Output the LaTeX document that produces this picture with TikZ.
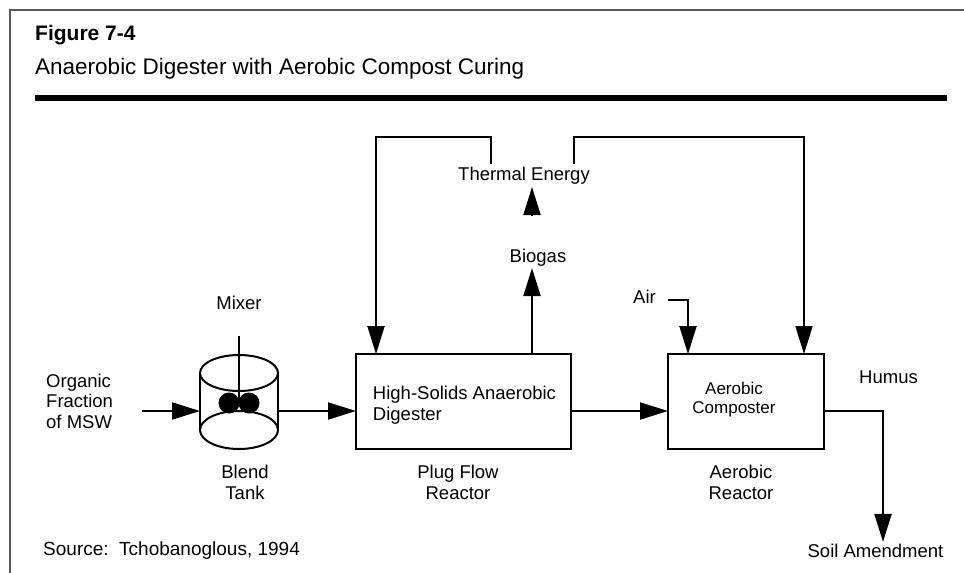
\documentclass[tikz,border=0pt]{standalone}
\usepackage{fontspec}
\setmainfont{Liberation Sans}
\usetikzlibrary{arrows.meta,calc}
\begin{document}
\begin{tikzpicture}[x=1pt,y=-1pt,
  lbl/.style={inner sep=0pt, font=\fontsize{18.5}{20.5}\selectfont, align=center},
  flow/.style={line width=2pt, -{Triangle[length=28pt,width=17pt]}},
  pipe/.style={line width=2pt},
  unit/.style={draw, line width=2pt, inner sep=0pt, outer sep=0pt}]
\useasboundingbox (0,0) rectangle (964,573);
% frame and heading
\draw[black!65, line width=1.5pt] (10,573) -- (10,10) -- (964,10);
\node[anchor=base west, inner sep=0pt, font=\fontsize{21}{25}\selectfont\bfseries] (title) at (35,40) {Figure 7-4};
\node[anchor=base west, inner sep=0pt, font=\fontsize{22.5}{26}\selectfont] (subtitle) at (35,74) {Anaerobic Digester with Aerobic Compost Curing};
\fill (35,95) rectangle (947,101);
\coordinate (flow) at (0,411);
% blend tank
\node[minimum width=78pt, minimum height=94pt, inner sep=0pt, outer sep=0pt] (tank) at (239,411) {};
\draw[pipe] (200,373) -- (200,430) (278,373) -- (278,430);
\draw[pipe] (239,373) ellipse [x radius=39pt, y radius=18pt];
\draw[pipe] (239,430) ellipse [x radius=39pt, y radius=19pt];
\fill (229,403) circle [radius=10.5pt];
\fill (249,403) circle [radius=10.5pt];
\draw[pipe] (239,336) -- (239,403);
\node[lbl, anchor=base] (mixer) at (239,309) {Mixer};
\node[lbl, anchor=base] (blend) at (245,499) {Blend\\Tank};
\node[lbl, anchor=base west, align=left] (organic) at (46,428) {Organic\\Fraction\\of MSW};
% units
\node[unit, minimum width=215pt, minimum height=95pt,
  label={[xshift=1pt, yshift=-4pt, inner sep=0pt, align=left, font=\fontsize{18.5}{21}\selectfont]center:High-Solids Anaerobic\\Digester}] (dig) at (463.5,401.5) {};
\node[unit, minimum width=156pt, minimum height=95pt,
  label={[xshift=-12pt, yshift=2pt, inner sep=0pt, align=center, font=\fontsize{17}{18.5}\selectfont]center:Aerobic\\Composter}] (comp) at (746,401.5) {};
\node[lbl, anchor=base] (pfr) at (458,499) {Plug Flow\\Reactor};
\node[lbl, anchor=base] (arx) at (741,499) {Aerobic\\Reactor};
% gas and heat
\node[lbl, anchor=base, inner sep=2pt] (biogas) at (538,262) {Biogas};
\node[lbl, anchor=base, inner sep=2.5pt] (thermal) at (524,180) {Thermal Energy};
\node[lbl, anchor=base east] (air) at (656,303) {Air};
\node[lbl, anchor=base west] (humus) at (859,383) {Humus};
\node[lbl, anchor=base, inner sep=1.5pt] (soil) at (875.5,557) {Soil Amendment};
\node[anchor=base west, inner sep=0pt, font=\fontsize{19}{22}\selectfont] (source) at (43,555) {Source:\ \ Tchobanoglous, 1994};
\coordinate (gas) at ($(dig.north west)+(176,0)$);
\coordinate (heat) at ($(gas |- thermal.base)+(0,7)$);
\coordinate (bend) at (883,411);
% connectors
\draw[flow] ($(tank.west)+(-58,0)$) -- (tank.west);
\draw[flow] (tank.east) -- (tank.east -| dig.west);
\draw[flow] (dig.east |- flow) -- (comp.west |- flow);
\draw[flow] (gas) -- (gas |- biogas.south);
\draw[flow] ($(gas |- biogas.base)+(0,-46)$) -- (heat);
\draw[flow] ($(thermal.north west)+(35,0)$) -- ++(0,-26.5) -| ($(dig.north west)+(20,0)$);
\draw[flow] ($(thermal.north east)+(-19,0)$) -- ++(0,-26.5) -| ($(comp.north west)+(136,0)$);
\draw[flow] ($(air.mid east)+(12,0)$) -| ($(comp.north west)+(20,0)$);
\draw[flow] (comp.east |- flow) -| (bend |- soil.north);
\end{tikzpicture}
\end{document}
